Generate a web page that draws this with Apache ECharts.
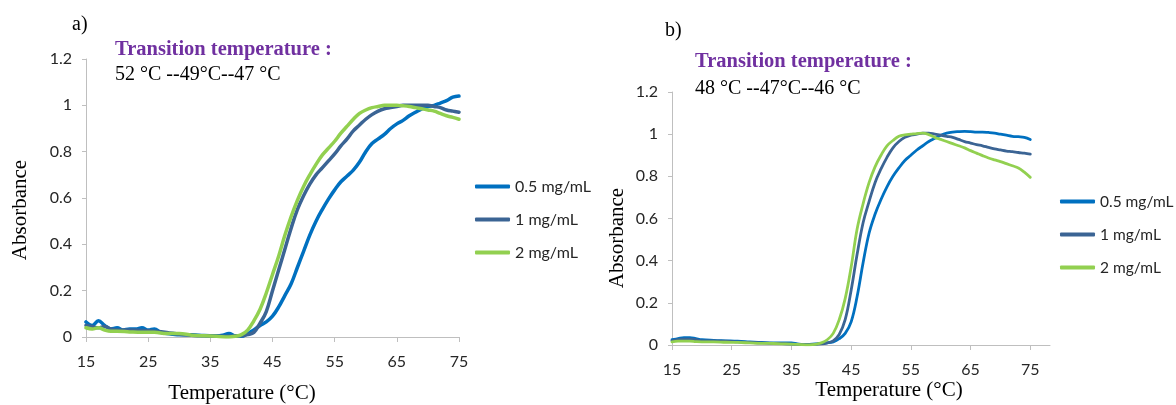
<!DOCTYPE html>
<html>
<head>
<meta charset="utf-8">
<script src="https://cdn.jsdelivr.net/npm/echarts@6/dist/echarts.min.js"></script>
<style>
html,body{margin:0;padding:0;background:#fff;}
#chart{width:1176px;height:405px;}
</style>
</head>
<body>
<div id="chart"></div>
<script>
// ---------- DATA ----------
var seriesNames = ['0.5 mg/mL', '1 mg/mL', '2 mg/mL'];
var xTicks = [15, 25, 35, 45, 55, 65, 75];

// Panel a
var aT05 = [15,16,17,18,19,20,21,22,23,24,25,26,27,28,29,30,32,34,36,37,38,39,40,41,42,43,44,45,46,47,48,49,50,51,52,53,54,55,56,57,58,59,60,61,62,63,64,65,66,67,68,69,70,71,72,73,74,75];
var aA05 = [0.065,0.05,0.07,0.05,0.035,0.04,0.03,0.035,0.035,0.04,0.03,0.035,0.02,0.015,0.012,0.01,0.01,0.006,0.005,0.008,0.015,0.005,0.003,0.015,0.03,0.05,0.065,0.09,0.13,0.18,0.23,0.30,0.37,0.44,0.50,0.55,0.595,0.635,0.67,0.695,0.72,0.755,0.80,0.835,0.855,0.875,0.9,0.92,0.935,0.955,0.97,0.985,0.995,1.0,1.01,1.02,1.035,1.04];

var aT1 = [15,16,17,18,19,20,22,24,26,28,30,32,34,36,38,40,41,42,43,44,45,46,47,48,49,50,51,52,53,54,55,56,57,58,59,60,61,62,63,64,65,66,67,68,69,70,71,72,73,74,75];
var aA1 = [0.05,0.045,0.04,0.045,0.035,0.03,0.03,0.028,0.025,0.02,0.012,0.008,0.005,0.003,0.003,0.005,0.01,0.02,0.06,0.11,0.2,0.29,0.38,0.47,0.55,0.61,0.66,0.70,0.73,0.76,0.79,0.825,0.855,0.89,0.915,0.94,0.96,0.975,0.985,0.99,0.995,1.0,1.0,1.0,1.0,1.0,0.995,0.99,0.98,0.975,0.97];

var aT2 = [15,16,17,18,19,20,22,24,26,28,30,32,34,36,38,39,40,41,42,43,44,45,46,47,48,49,50,51,52,53,54,55,56,57,58,59,60,61,62,63,64,65,66,67,68,69,70,71,72,73,74,75];
var aA2 = [0.04,0.035,0.04,0.03,0.025,0.025,0.022,0.02,0.02,0.015,0.015,0.008,0.005,0.003,0.0,0.003,0.01,0.03,0.07,0.12,0.19,0.27,0.35,0.44,0.52,0.59,0.65,0.70,0.745,0.785,0.815,0.845,0.88,0.91,0.94,0.965,0.98,0.99,0.995,1.0,1.0,1.0,0.998,0.995,0.99,0.985,0.98,0.975,0.965,0.955,0.948,0.94];

// Panel b
var bT05 = [15,16,17,18,19,20,22,24,26,28,30,32,34,35,36,37,38,39,40,41,42,43,44,45,46,47,48,49,50,51,52,53,54,55,56,57,58,59,60,61,62,63,64,65,66,67,68,69,70,71,72,73,74,75];
var bA05 = [0.025,0.03,0.035,0.035,0.03,0.025,0.022,0.02,0.018,0.015,0.012,0.01,0.01,0.01,0.005,0.002,0.003,0.005,0.008,0.01,0.015,0.03,0.055,0.11,0.23,0.39,0.53,0.62,0.69,0.75,0.80,0.84,0.875,0.90,0.925,0.945,0.965,0.98,0.995,1.005,1.01,1.012,1.013,1.012,1.01,1.01,1.008,1.005,1.0,0.995,0.99,0.988,0.985,0.975];

var bT1 = [15,16,17,18,19,20,22,24,26,28,30,32,34,36,38,40,41,42,43,44,45,46,47,48,49,50,51,52,53,54,55,56,57,58,59,60,61,62,63,64,65,66,67,68,69,70,71,72,73,74,75];
var bA1 = [0.02,0.025,0.028,0.028,0.025,0.02,0.02,0.018,0.015,0.012,0.01,0.008,0.006,0.003,0.002,0.005,0.01,0.02,0.05,0.12,0.26,0.43,0.58,0.68,0.77,0.835,0.89,0.935,0.965,0.985,0.995,1.0,1.005,1.005,1.0,0.995,0.99,0.985,0.975,0.965,0.958,0.95,0.945,0.937,0.93,0.925,0.92,0.917,0.913,0.91,0.905];

var bT2 = [15,16,17,18,19,20,22,24,26,28,30,32,34,36,38,39,40,41,42,43,44,45,46,47,48,49,50,51,52,53,54,55,56,57,58,59,60,61,62,63,64,65,66,67,68,69,70,71,72,73,74,75];
var bA2 = [0.015,0.018,0.018,0.018,0.016,0.015,0.015,0.013,0.012,0.01,0.008,0.007,0.005,0.003,0.001,0.003,0.01,0.025,0.055,0.12,0.22,0.37,0.55,0.67,0.77,0.845,0.9,0.945,0.97,0.99,0.997,1.0,1.003,1.005,0.998,0.985,0.975,0.965,0.955,0.945,0.935,0.922,0.91,0.898,0.887,0.878,0.87,0.86,0.85,0.84,0.82,0.795];

// ---------- CHART ----------
function pairs(t, a) { return t.map(function (v, i) { return [v, a[i]]; }); }

var colors = ['#0070C0', '#3B6494', '#92D050'];
var serifFont = '"Liberation Serif", "DejaVu Serif", serif';
var sansFont = 'Lato, "Liberation Sans", sans-serif';

function xAxisCfg(idx, max) {
  return {
    type: 'value', gridIndex: idx, min: 15, max: max,
    axisLine: { show: true, lineStyle: { color: '#bfbfbf', width: 1 } },
    axisTick: { show: true, length: 5, lineStyle: { color: '#bfbfbf' }, customValues: xTicks },
    axisLabel: { customValues: xTicks, margin: 16, color: '#262626', fontSize: 16, lineHeight: 18, fontFamily: sansFont },
    splitLine: { show: false }
  };
}
function yAxisCfg(idx) {
  return {
    type: 'value', gridIndex: idx, min: 0, max: 1.2, interval: 0.2,
    axisLine: { show: true, lineStyle: { color: '#bfbfbf', width: 1 } },
    axisTick: { show: true, length: 4, lineStyle: { color: '#bfbfbf' } },
    axisLabel: { margin: 14, color: '#262626', fontSize: 16, fontFamily: sansFont },
    splitLine: { show: false }
  };
}
function lineSeries(name, data, ax, color, width) {
  return {
    name: name, type: 'line', xAxisIndex: ax, yAxisIndex: ax,
    data: data, showSymbol: false, symbol: 'none', smooth: 0.4,
    lineStyle: { color: color, width: width, cap: 'round', join: 'round' },
    itemStyle: { color: color }, z: 3
  };
}
function legendCfg(left, top, fs) {
  return {
    data: seriesNames, orient: 'vertical', left: left, top: top, padding: 0,
    icon: 'roundRect', itemWidth: 35, itemHeight: 4, itemGap: 14,
    textStyle: { color: '#262626', fontSize: fs, lineHeight: 19, fontFamily: sansFont },
    selectedMode: false
  };
}
function txt(text, x, y, font, fill, align) {
  return { type: 'text', x: x, y: y, style: { text: text, x: 0, y: 0, font: font, fill: fill || '#000', textAlign: align || 'left', textVerticalAlign: 'middle' } };
}

var chart = echarts.init(document.getElementById('chart'), null, { renderer: 'canvas' });
chart.setOption({
  animation: false,
  backgroundColor: '#ffffff',
  grid: [
    { left: 86, top: 59, width: 373, height: 278 },
    { left: 672, top: 92, width: 378, height: 253 }
  ],
  xAxis: [xAxisCfg(0, 75), xAxisCfg(1, 78.3)],
  yAxis: [yAxisCfg(0), yAxisCfg(1)],
  legend: [legendCfg(475, 177, 16), legendCfg(1060, 192, 15.5)],
  series: [
    lineSeries(seriesNames[0], pairs(aT05, aA05), 0, colors[0], 3.5),
    lineSeries(seriesNames[1], pairs(aT1, aA1), 0, colors[1], 3.5),
    lineSeries(seriesNames[2], pairs(aT2, aA2), 0, colors[2], 3.5),
    lineSeries(seriesNames[0], pairs(bT05, bA05), 1, colors[0], 2.8),
    lineSeries(seriesNames[1], pairs(bT1, bA1), 1, colors[1], 2.8),
    lineSeries(seriesNames[2], pairs(bT2, bA2), 1, colors[2], 2.8)
  ],
  graphic: [
    txt('a)', 72, 25, '20px ' + serifFont),
    txt('Transition temperature :', 115, 50, 'bold 20.5px ' + serifFont, '#7030A0'),
    txt('52 °C --49°C--47 °C', 115, 75, '20px ' + serifFont),
    txt('b)', 665, 31, '20px ' + serifFont),
    txt('Transition temperature :', 695, 62, 'bold 20.5px ' + serifFont, '#7030A0'),
    txt('48 °C --47°C--46 °C', 695, 89, '20px ' + serifFont),
    Object.assign(txt('Absorbance', 20, 210, '21px ' + serifFont, '#000', 'center'), { rotation: Math.PI / 2 }),
    Object.assign(txt('Absorbance', 617, 238, '21px ' + serifFont, '#000', 'center'), { rotation: Math.PI / 2 }),
    txt('Temperature (°C)', 242, 393, '21px ' + serifFont, '#000', 'center'),
    txt('Temperature (°C)', 889, 390, '21px ' + serifFont, '#000', 'center')
  ]
});
</script>
</body>
</html>
